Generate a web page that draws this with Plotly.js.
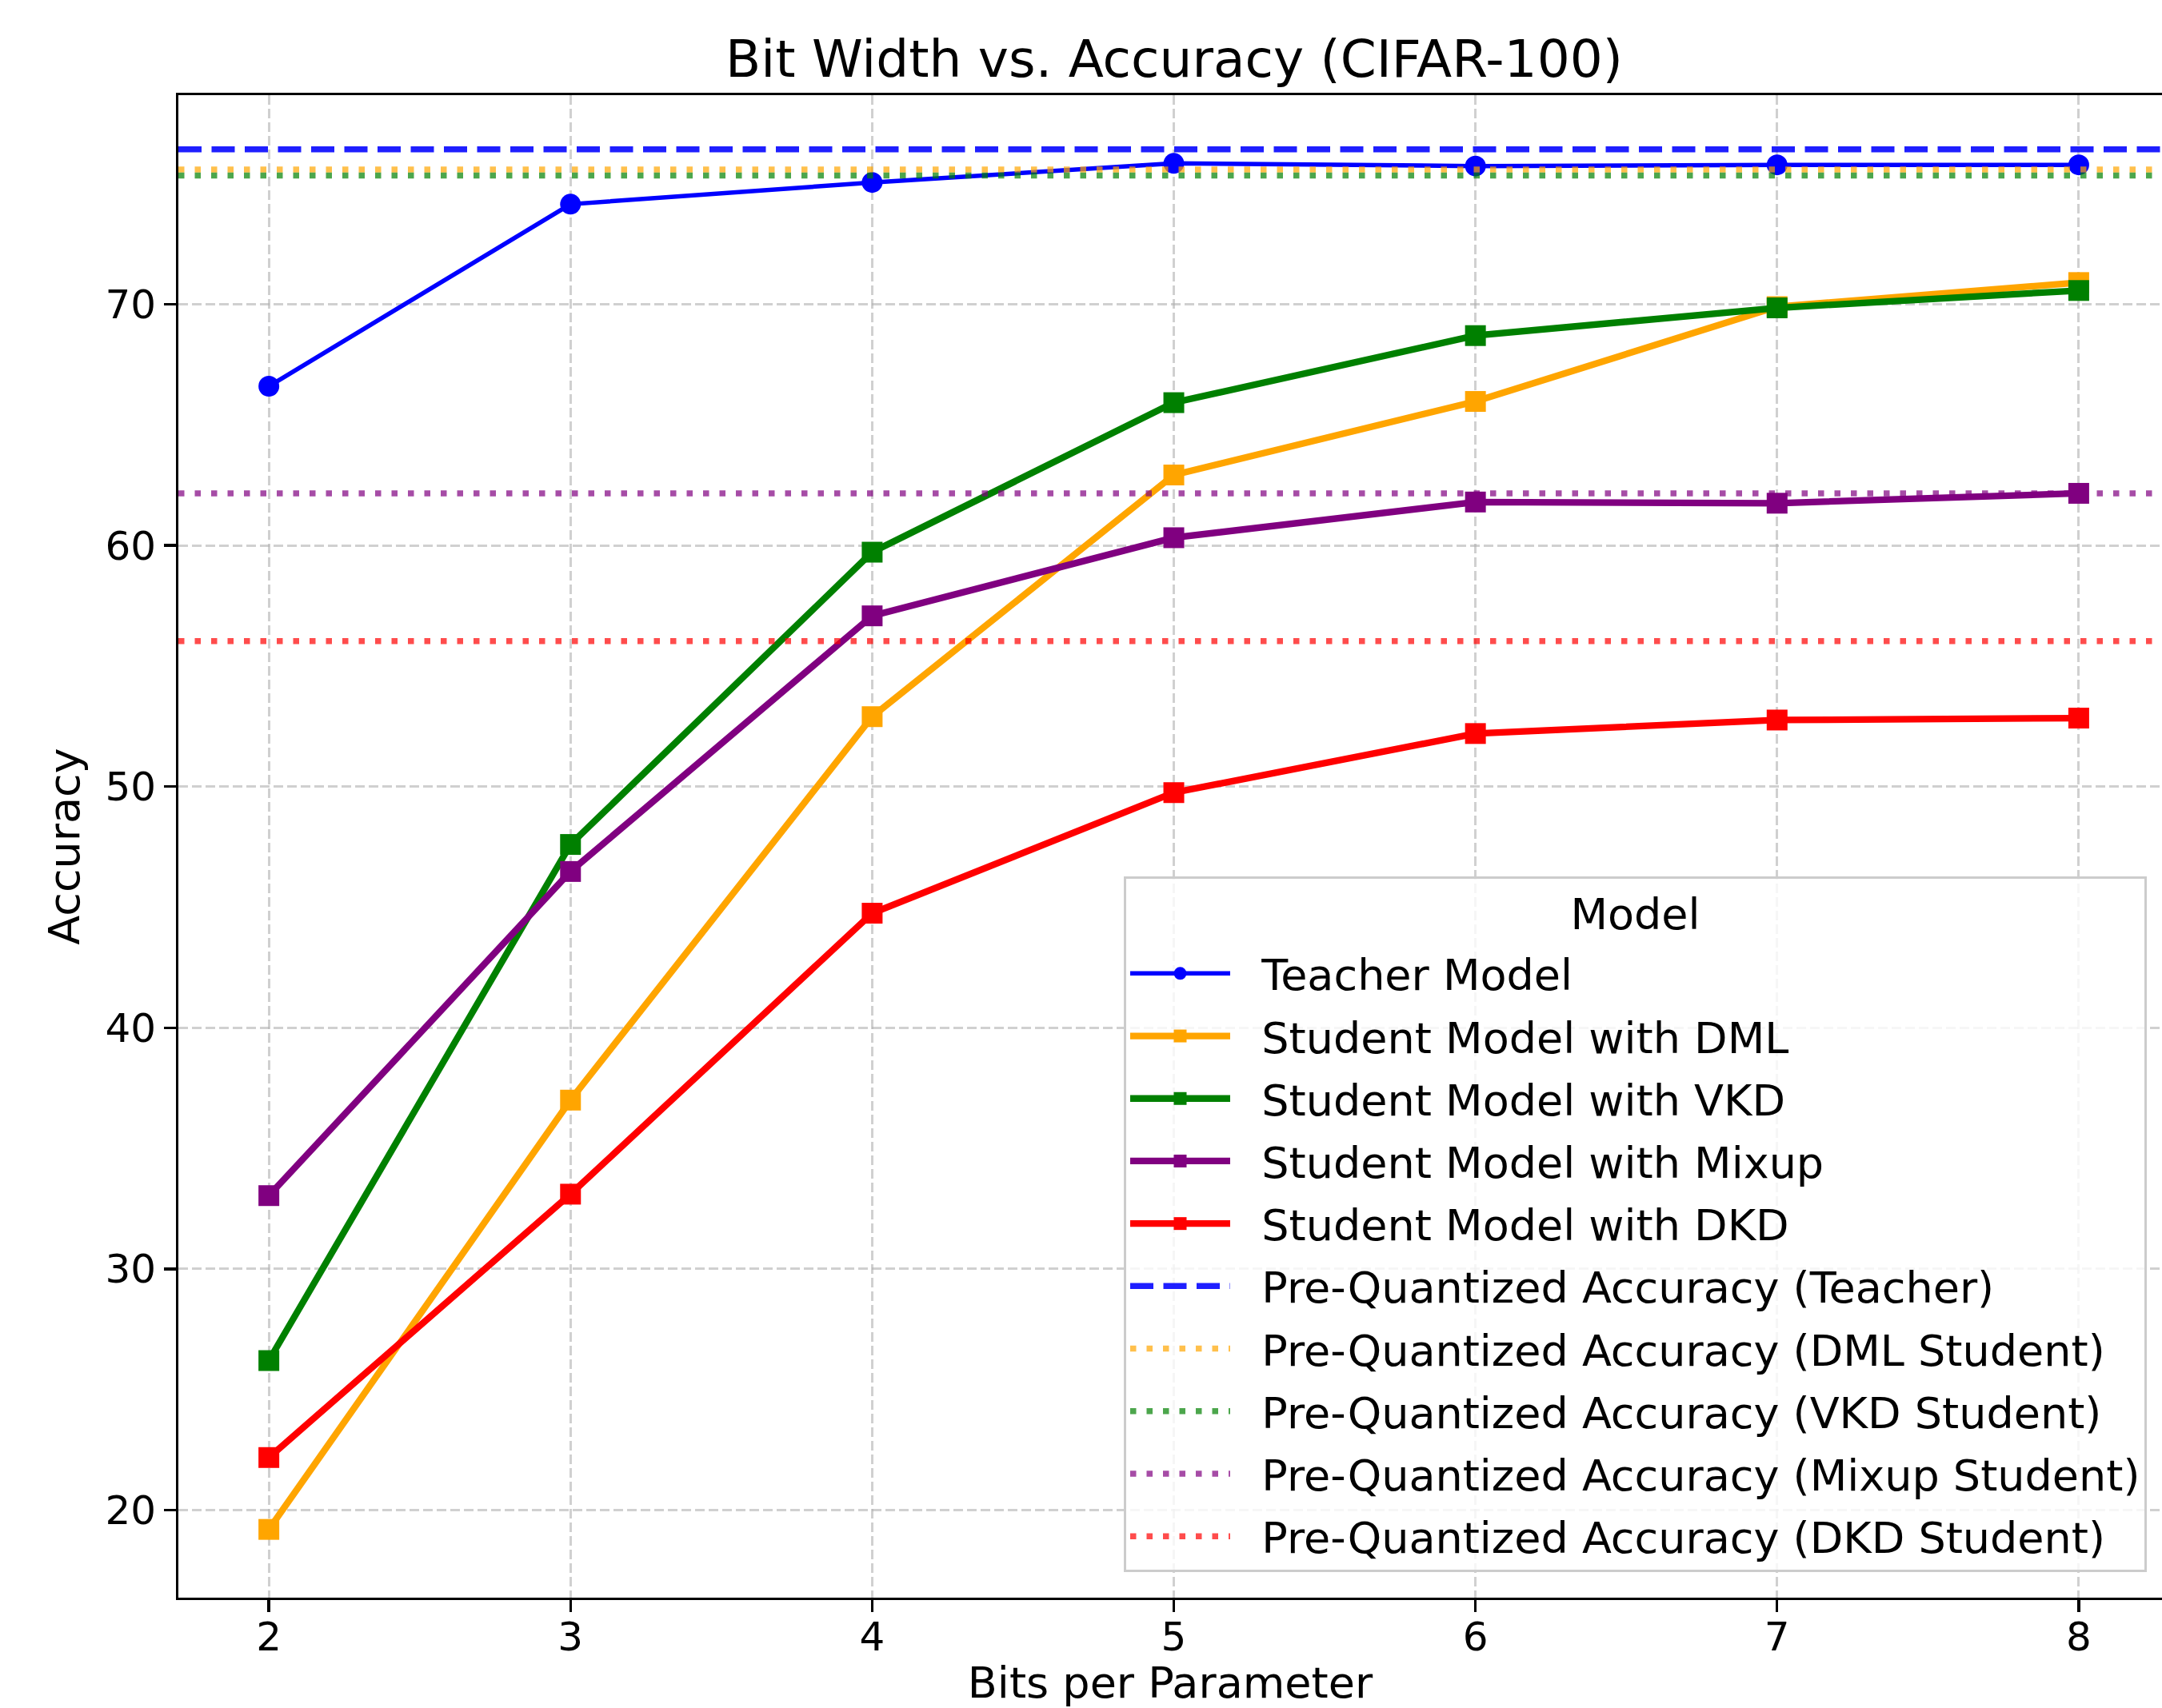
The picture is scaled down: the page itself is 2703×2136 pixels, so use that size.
<!DOCTYPE html>
<html><head><meta charset="utf-8">
<script src="https://cdn.plot.ly/plotly-3.0.1.min.js"></script>
<style>html,body{margin:0;padding:0;background:#fff;}#chart{width:2703px;height:2136px;}</style>
</head><body><div id="chart"></div>
<script>
// ---- data ----
const bits = [2, 3, 4, 5, 6, 7, 8];
const teacherAcc = [66.6, 74.15, 75.05, 75.84, 75.73, 75.78, 75.78];
const dmlAcc = [19.2, 37.0, 52.9, 62.92, 65.97, 69.9, 70.9];
const vkdAcc = [26.2, 47.6, 59.72, 65.92, 68.7, 69.85, 70.57];
const mixupAcc = [33.04, 46.48, 57.08, 60.32, 61.8, 61.75, 62.16];
const dkdAcc = [22.18, 33.1, 44.75, 49.75, 52.2, 52.76, 52.84];
const seriesNames = ["Teacher Model", "Student Model with DML", "Student Model with VKD",
                     "Student Model with Mixup", "Student Model with DKD"];
const preQuantNames = ["Pre-Quantized Accuracy (Teacher)", "Pre-Quantized Accuracy (DML Student)",
                       "Pre-Quantized Accuracy (VKD Student)", "Pre-Quantized Accuracy (Mixup Student)",
                       "Pre-Quantized Accuracy (DKD Student)"];
const preQuantAcc = [76.42, 75.59, 75.34, 62.16, 56.03];
const xTicks = [2, 3, 4, 5, 6, 7, 8];
const yTicks = [20, 30, 40, 50, 60, 70];

// ---- styles ----
const xRange = [1.7, 8.276];
const yRange = [16.37, 78.67];
const F = "DejaVu Sans, Liberation Sans, sans-serif";
const lineColors = ["#0000ff", "#ffa500", "#008000", "#800080", "#ff0000"];
const preColors = ["rgba(0,0,255,0.88)", "rgba(255,165,0,0.7)", "rgba(0,128,0,0.7)",
                   "rgba(128,0,128,0.7)", "rgba(255,0,0,0.7)"];
const preDash = ["29px,12.5px", "7.5px,13px", "7.5px,13px", "7.5px,13px", "7.5px,13px"];
const seriesVals = [teacherAcc, dmlAcc, vkdAcc, mixupAcc, dkdAcc];
const pad = "\u00a0\u00a0";

const traces = [];
seriesVals.forEach((vals, i) => {
  traces.push({
    x: bits, y: vals, type: "scatter", mode: "lines+markers",
    name: pad + seriesNames[i], legendgroup: "g" + i,
    line: {color: lineColors[i], width: i === 0 ? 5.5 : 8.3},
    marker: {color: lineColors[i], size: 26, symbol: i === 0 ? "circle" : "square",
             line: {width: 0}}
  });
});
preQuantAcc.forEach((v, i) => {
  traces.push({
    x: xRange, y: [v, v], type: "scatter", mode: "lines",
    name: pad + preQuantNames[i], legendgroup: "p" + i,
    line: {color: preColors[i], width: 7.5, dash: preDash[i]}
  });
});

const layout = {
  width: 2703, height: 2136,
  paper_bgcolor: "#ffffff", plot_bgcolor: "#ffffff",
  margin: {l: 222.5, r: 0, t: 119, b: 138, pad: 0},
  font: {family: F, color: "#000000", size: 50},
  title: {text: "Bit Width vs. Accuracy (CIFAR-100)", font: {family: F, size: 64.5, color: "#000"},
          xref: "paper", x: 0.502, xanchor: "center", yref: "container", y: 0.9656, yanchor: "middle"},
  xaxis: {
    range: xRange, tickvals: xTicks, ticktext: xTicks.map(String),
    showline: true, linecolor: "#000", linewidth: 3.3, mirror: true,
    ticks: "outside", ticklen: 14.6, tickwidth: 3.3, tickcolor: "#000",
    tickfont: {family: F, size: 50, color: "#000"}, ticklabelstandoff: -12,
    showgrid: true, gridcolor: "rgba(176,176,176,0.6)", gridwidth: 3, griddash: "12px,5px",
    zeroline: false, automargin: false,
    title: {text: "Bits per Parameter", font: {family: F, size: 54, color: "#000"}, standoff: 31}
  },
  yaxis: {
    range: yRange, tickvals: yTicks, ticktext: yTicks.map(String),
    showline: true, linecolor: "#000", linewidth: 3.3, mirror: false,
    ticks: "outside", ticklen: 14.6, tickwidth: 3.3, tickcolor: "#000",
    tickfont: {family: F, size: 50, color: "#000"},
    showgrid: true, gridcolor: "rgba(176,176,176,0.6)", gridwidth: 3, griddash: "12px,5px",
    zeroline: false, automargin: false,
    title: {text: "Accuracy", font: {family: F, size: 54, color: "#000"}, standoff: 15}
  },
  legend: {
    x: 0.99234, xanchor: "right", y: 0.0170, yanchor: "bottom",
    bgcolor: "rgba(255,255,255,0.8)", bordercolor: "#cccccc", borderwidth: 3,
    font: {family: F, size: 54, color: "#000"},
    title: {text: "<span style=\"font-size:54px;baseline-shift:14px\">Model</span>", side: "top center",
            font: {family: F, size: 59, color: "#000"}},
    traceorder: "grouped", tracegroupgap: 5, itemwidth: 125
  },
  showlegend: true
};

Plotly.newPlot("chart", traces, layout, {staticPlot: true, displayModeBar: false});
</script></body></html>
